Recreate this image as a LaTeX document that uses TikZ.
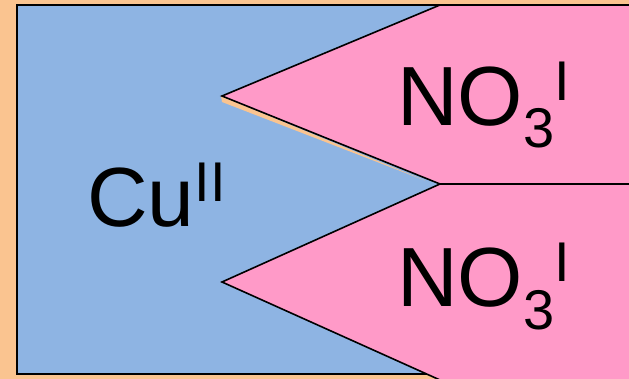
\documentclass[tikz,border=0pt]{standalone}
\usepackage{fontspec}
\setmainfont{Liberation Sans}
\definecolor{bgorange}{HTML}{FAC490}
\definecolor{cublue}{HTML}{8EB4E3}
\definecolor{nopink}{HTML}{FF9AC8}
\newcommand\mysup[1]{\raisebox{25pt}{\fontsize{56}{56}\selectfont #1}}
\newcommand\mysub[1]{\raisebox{-22pt}{\fontsize{56}{56}\selectfont #1}}
\begin{document}
\begin{tikzpicture}[x=1pt,y=-1pt,
  lbl/.style={inner sep=0pt, anchor=base west, font=\fontsize{84}{84}\selectfont},
  edge/.style={draw=black, line width=1.6pt, line join=miter}]
\useasboundingbox (0,0) rectangle (629,379);
\fill[bgorange] (0,0) rectangle (629,379);
\begin{scope}
\clip (0,0) rectangle (629,379);
\draw[fill=cublue, line width=2pt] (17,5) rectangle (660,374);
\fill[bgorange] (221,96) -- (425,180.5) -- (222,102) -- cycle;
\filldraw[edge, fill=nopink] (660,5) -- (440,5) -- (222,96) -- (440,184) -- (660,184);
\filldraw[edge, fill=nopink] (660,184) -- (440,184) -- (222,282) -- (440,380) -- (660,380);
\end{scope}
\node[lbl] (cu) at (87,227) {Cu\mysup{II}};
\node[lbl] (no3a) at (397,126) {NO\mysub{3}\mysup{I}};
\node[lbl] (no3b) at (397,307) {NO\mysub{3}\mysup{I}};
\end{tikzpicture}
\end{document}
